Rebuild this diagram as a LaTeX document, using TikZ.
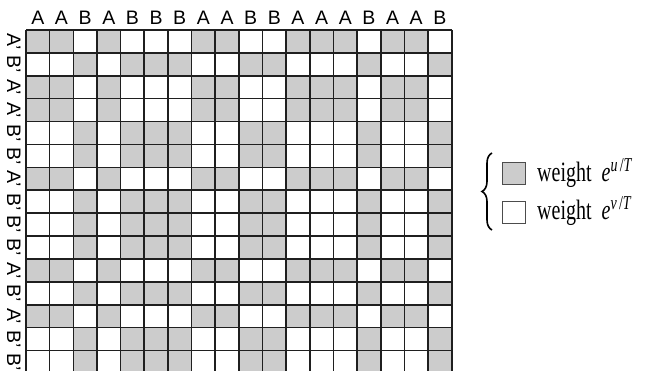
\documentclass[tikz,border=0pt]{standalone}
\usepackage{fontspec}
\setmainfont{Liberation Serif}
\setsansfont{Liberation Sans}
\usetikzlibrary{decorations.pathreplacing, positioning}

\begin{document}
\begin{tikzpicture}[
    x=1pt, y=-1pt,
    gridline/.style={draw=black!88, line width=1.6pt},
    hit/.style={fill=black!20},
    collbl/.style={font=\sffamily\fontsize{19.5}{19.5}\selectfont, anchor=base, inner sep=0pt},
    rowlbl/.style={font=\sffamily\fontsize{19.5}{19.5}\selectfont, anchor=base, rotate=-90, inner sep=0pt},
    legbox/.style={draw=black!70, line width=1pt, minimum width=23pt, minimum height=22pt, inner sep=0pt},
    legtxt/.style={font=\fontsize{20}{20}\selectfont, anchor=base west, inner sep=0pt},
    brc/.style={decorate, decoration={brace, amplitude=10pt}, line width=1.6pt},
]

\useasboundingbox (0,0) rectangle (646,371);
\clip (0,0) rectangle (646,371);

% Cells: grey where row and column letters agree
\def\cw{23.65}
\def\ch{22.9}
\foreach \r [count=\i from 0] in {A,B,A,A,B,B,A,B,B,B,A,B,A,B,B} {
  \foreach \c [count=\j from 0] in {A,A,B,A,B,B,B,A,A,B,B,A,A,A,B,A,A,B} {
    \ifx\r\c
      \fill[hit] ({26+\j*\cw},{30+\i*\ch}) rectangle ++(\cw,\ch);
    \fi
  }
  \node[rowlbl] (r\i) at (7,{30+(\i+0.5)*\ch}) {\r'};
}

% Column labels
\foreach \c [count=\j from 0] in {A,A,B,A,B,B,B,A,A,B,B,A,A,A,B,A,A,B}
  \node[collbl] (c\j) at ({26+(\j+0.5)*\cw},25) {\c};

% Grid lines
\foreach \j in {0,...,18}
  \draw[gridline] ({26+\j*\cw},30) -- ({26+\j*\cw},{30+15*\ch});
\foreach \i in {0,...,15}
  \draw[gridline] (26,{30+\i*\ch}) -- ({26+18*\cw},{30+\i*\ch});

% Legend
\node[legbox, fill=black!20] (gbox) at (513.5,174) {};
\node[legbox] (wbox) at (513.5,213) {};
\node[legtxt] (gtxt) at (537,182) {\scalebox{1}[1.4]{weight~~\textit{e}\textsuperscript{\textit{u}\,/\textit{T}}}};
\node[legtxt] (wtxt) at (537,220) {\scalebox{1}[1.4]{weight~~\textit{e}\textsuperscript{\textit{v}\,/\textit{T}}}};
\coordinate (btop) at (492,153);
\coordinate (bbot) at (492,230);
\draw[brc] (bbot) -- (btop);

\end{tikzpicture}
\end{document}
